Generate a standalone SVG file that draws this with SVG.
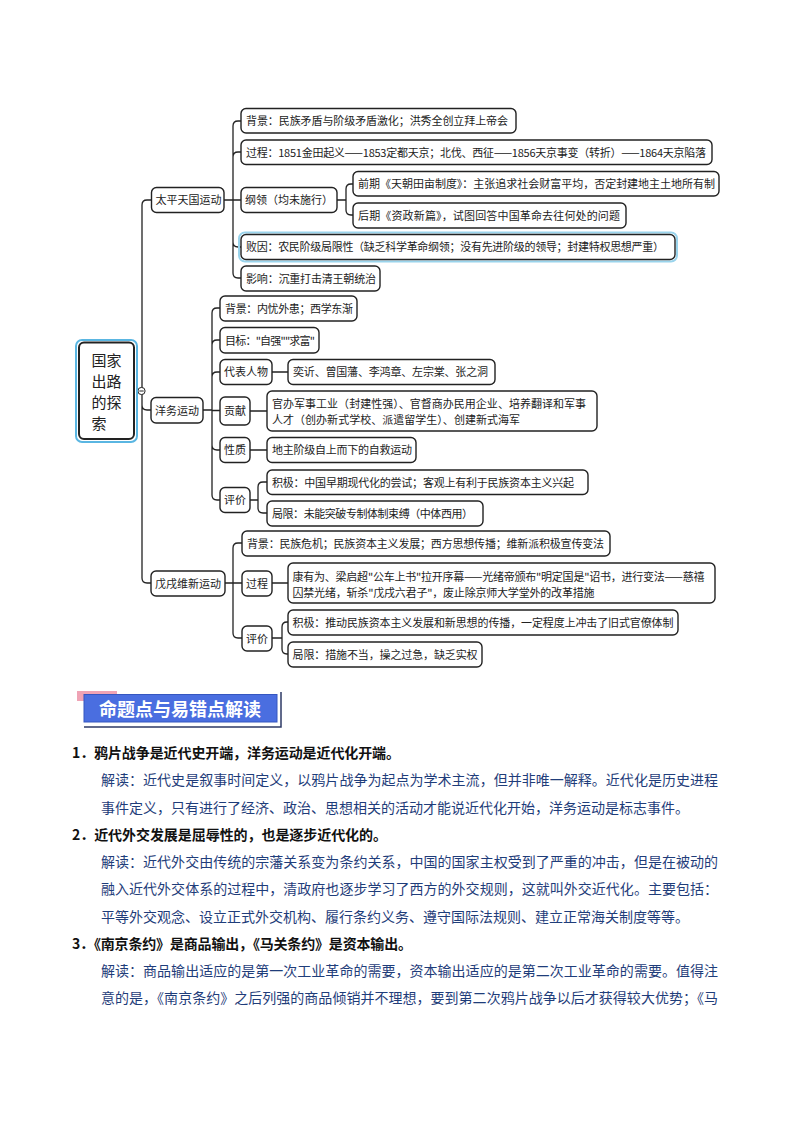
<svg xmlns="http://www.w3.org/2000/svg" width="794" height="1123" viewBox="0 0 794 1123">
<style>
.b{fill:#fff;stroke:#222;stroke-width:1.4}
.t{font-family:"Noto Sans CJK SC","Noto Sans",sans-serif;font-size:11px;fill:#222}
.c{fill:none;stroke:#222;stroke-width:1.3}
.h{font-family:"Noto Sans CJK SC","Noto Sans",sans-serif;font-size:14px;fill:#111;font-weight:bold}
.p{font-family:"Noto Sans CJK SC","Noto Sans",sans-serif;font-size:14px;fill:#1F3D7A}
</style>
<rect width="794" height="1123" fill="#fff"/>
<g id="connectors">
<path class="c" d="M137,391 L141,391"/>
<path class="c" d="M142,205 Q142,200 147,200 L151.5,200 M142,205 L142,578 Q142,583 147,583 L151,583 M142,405 Q142,410 147,410 L151,410"/>
<path class="c" d="M224,200 L233,200 M233,126 L233,273 M233,126 Q233,121 238,121 L241,121 M233,157 Q233,152 238,152 L241,152 M233,200 L241,200 M233,242 Q233,247 238,247 L241,247 M233,273 Q233,278 238,278 L241,278"/>
<path class="c" d="M337,200 L346,200 M346,189 L346,210 M346,189 Q346,184 351,184 L353,184 M346,210 Q346,215 351,215 L353,215"/>
<path class="c" d="M203,410 L212,410 M212,313 L212,495 M212,313 Q212,308 217,308 L220,308 M212,345 Q212,340 217,340 L220,340 M212,377 Q212,372 217,372 L220,372 M212,410.5 L220,410.5 M212,445 Q212,450 217,450 L220,450 M212,495 Q212,500 217,500 L220,500"/>
<path class="c" d="M272,372 L288,372 M250,411 L267,411 M250,450 L267,450"/>
<path class="c" d="M250,500 L258,500 M258,487 L258,508 M258,487 Q258,482 263,482 L267,482 M258,508 Q258,513 263,513 L267,513"/>
<path class="c" d="M225,583 L233,583 M233,548 L233,633 M233,548 Q233,543 238,543 L242,543 M233,583 L242,583 M233,633 Q233,638 238,638 L242,638"/>
<path class="c" d="M272,583 L288,583 M272,638 L282,638 M282,627 L282,649 M282,627 Q282,622 287,622 L288,622 M282,649 Q282,654 287,654 L288,654"/>
<circle cx="141.5" cy="391" r="3.6" fill="#fff" stroke="#222" stroke-width="1"/>
<path d="M139.3,391 L143.7,391" stroke="#222" stroke-width="1"/>
</g>
<g id="root">
<rect x="76" y="340" width="61" height="102" rx="6" fill="none" stroke="#5AB6E2" stroke-width="2"/>
<rect x="79" y="342.5" width="55" height="96.5" rx="5" fill="#fff" stroke="#222" stroke-width="2"/>
<text x="91.5" y="365.5" style="font-family:'Noto Sans CJK SC',sans-serif;font-size:15px;fill:#222">国家</text>
<text x="91.5" y="386.8" style="font-family:'Noto Sans CJK SC',sans-serif;font-size:15px;fill:#222">出路</text>
<text x="91.5" y="408.1" style="font-family:'Noto Sans CJK SC',sans-serif;font-size:15px;fill:#222">的探</text>
<text x="91.5" y="429.4" style="font-family:'Noto Sans CJK SC',sans-serif;font-size:15px;fill:#222">索</text>
</g>
<g id="taiping">
<rect class="b" x="151.5" y="187.5" width="72.5" height="25" rx="5"/>
<text class="t" x="155.5" y="204">太平天国运动</text>
</g>
<g id="tp-bg">
<rect class="b" x="241" y="108.5" width="275" height="24.5" rx="5"/>
<text class="t" x="246" y="125" textLength="262">背景：民族矛盾与阶级矛盾激化；洪秀全创立拜上帝会</text>
</g>
<g id="tp-gc">
<rect class="b" x="241" y="140" width="471" height="24.5" rx="5"/>
<text class="t" x="246" y="156.5" textLength="460">过程：1851金田起义——1853定都天京；北伐、西征——1856天京事变（转折）——1864天京陷落</text>
</g>
<g id="tp-gl">
<rect class="b" x="241" y="187.5" width="96" height="25" rx="5"/>
<text class="t" x="245" y="204" textLength="88">纲领（均未施行）</text>
</g>
<g id="tp-gl1">
<rect class="b" x="353" y="171.5" width="366" height="24.5" rx="5"/>
<text class="t" x="358" y="188" textLength="357">前期《天朝田亩制度》：主张追求社会财富平均，否定封建地主土地所有制</text>
</g>
<g id="tp-gl2">
<rect class="b" x="353" y="203" width="273" height="25" rx="5"/>
<text class="t" x="358" y="219.5" textLength="262">后期《资政新篇》，试图回答中国革命去往何处的问题</text>
</g>
<g id="tp-by">
<rect x="239" y="232.5" width="438" height="29" rx="6" fill="none" stroke="#9AD4EC" stroke-width="2"/>
<rect class="b" x="241" y="234.5" width="434" height="25" rx="5"/>
<text class="t" x="246" y="251" textLength="418">败因：农民阶级局限性（缺乏科学革命纲领；没有先进阶级的领导；封建特权思想严重）</text>
</g>
<g id="tp-yx">
<rect class="b" x="241" y="266" width="139" height="25" rx="5"/>
<text class="t" x="246" y="282.5" textLength="130">影响：沉重打击清王朝统治</text>
</g>
<g id="yangwu">
<rect class="b" x="151" y="397.5" width="52" height="25.5" rx="5"/>
<text class="t" x="155" y="414.5">洋务运动</text>
</g>
<g id="yw-bg">
<rect class="b" x="220" y="296" width="137" height="25" rx="5"/>
<text class="t" x="225" y="312.5" textLength="128">背景：内忧外患；西学东渐</text>
</g>
<g id="yw-mb">
<rect class="b" x="220" y="327.5" width="99" height="25.5" rx="5"/>
<text class="t" x="225" y="344.5" textLength="90">目标："自强""求富"</text>
</g>
<g id="yw-db">
<rect class="b" x="220" y="359.5" width="52" height="25" rx="5"/>
<text class="t" x="224" y="376">代表人物</text>
</g>
<g id="yw-db1">
<rect class="b" x="288" y="359.5" width="207" height="25" rx="5"/>
<text class="t" x="293" y="376" textLength="195">奕䜣、曾国藩、李鸿章、左宗棠、张之洞</text>
</g>
<g id="yw-gx">
<rect class="b" x="220" y="397" width="30" height="28" rx="5"/>
<text class="t" x="224" y="415">贡献</text>
</g>
<g id="yw-gx1">
<rect class="b" x="267" y="391" width="330" height="40" rx="5"/>
<text class="t" x="272" y="407.5" textLength="314">官办军事工业（封建性强）、官督商办民用企业、培养翻译和军事</text>
<text class="t" x="272" y="423.5" textLength="248">人才（创办新式学校、派遣留学生）、创建新式海军</text>
</g>
<g id="yw-xz">
<rect class="b" x="220" y="437.5" width="30" height="25" rx="5"/>
<text class="t" x="224" y="454">性质</text>
</g>
<g id="yw-xz1">
<rect class="b" x="267" y="437.5" width="149" height="25" rx="5"/>
<text class="t" x="272" y="454" textLength="140">地主阶级自上而下的自救运动</text>
</g>
<g id="yw-pj">
<rect class="b" x="220" y="487.5" width="30" height="25" rx="5"/>
<text class="t" x="224" y="504">评价</text>
</g>
<g id="yw-pj1">
<rect class="b" x="267" y="470" width="321" height="24.5" rx="5"/>
<text class="t" x="272" y="486.5" textLength="302">积极：中国早期现代化的尝试；客观上有利于民族资本主义兴起</text>
</g>
<g id="yw-pj2">
<rect class="b" x="267" y="501" width="216" height="25" rx="5"/>
<text class="t" x="272" y="517.5" textLength="201">局限：未能突破专制体制束缚（中体西用）</text>
</g>
<g id="wuxu">
<rect class="b" x="151" y="571" width="74" height="25" rx="5"/>
<text class="t" x="155" y="587.5">戊戌维新运动</text>
</g>
<g id="wx-bg">
<rect class="b" x="242" y="531" width="368" height="25" rx="5"/>
<text class="t" x="247" y="547.5" textLength="357">背景：民族危机；民族资本主义发展；西方思想传播；维新派积极宣传变法</text>
</g>
<g id="wx-gc">
<rect class="b" x="242" y="571" width="30" height="25" rx="5"/>
<text class="t" x="246" y="587.5">过程</text>
</g>
<g id="wx-gc1">
<rect class="b" x="288" y="563" width="427" height="40" rx="5"/>
<text class="t" x="292.5" y="580.5" textLength="412">康有为、梁启超"公车上书"拉开序幕——光绪帝颁布"明定国是"诏书，进行变法——慈禧</text>
<text class="t" x="292.5" y="596.5" textLength="302">囚禁光绪，斩杀"戊戌六君子"，废止除京师大学堂外的改革措施</text>
</g>
<g id="wx-pj">
<rect class="b" x="242" y="626" width="30" height="25" rx="5"/>
<text class="t" x="246" y="642.5">评价</text>
</g>
<g id="wx-pj1">
<rect class="b" x="288" y="610" width="390" height="25" rx="5"/>
<text class="t" x="292.5" y="626.5" textLength="381">积极：推动民族资本主义发展和新思想的传播，一定程度上冲击了旧式官僚体制</text>
</g>
<g id="wx-pj2">
<rect class="b" x="288" y="642" width="194" height="25" rx="5"/>
<text class="t" x="292.5" y="658.5" textLength="185">局限：措施不当，操之过急，缺乏实权</text>
</g>
<g id="header">
<rect x="77" y="691" width="40" height="10" fill="#EFA3B5"/>
<path d="M84,727 L281,727 L281,692" fill="none" stroke="#2E3A66" stroke-width="1.5"/>
<rect x="84" y="694.5" width="193" height="27.5" fill="#4A6EE0" stroke="#3556C0" stroke-width="1"/>
<text x="99" y="715.5" textLength="162" style="font-family:'Noto Sans CJK SC',sans-serif;font-size:18px;font-weight:bold;fill:#fff">命题点与易错点解读</text>
</g>
<g id="body">
<text class="h" x="72" y="758" textLength="328">1．鸦片战争是近代史开端，洋务运动是近代化开端。</text>
<text class="p" x="101" y="785.3" textLength="617">解读：近代史是叙事时间定义，以鸦片战争为起点为学术主流，但并非唯一解释。近代化是历史进程</text>
<text class="p" x="101" y="812.6">事件定义，只有进行了经济、政治、思想相关的活动才能说近代化开始，洋务运动是标志事件。</text>
<text class="h" x="72" y="839.8" textLength="315">2．近代外交发展是屈辱性的，也是逐步近代化的。</text>
<text class="p" x="101" y="867" textLength="617">解读：近代外交由传统的宗藩关系变为条约关系，中国的国家主权受到了严重的冲击，但是在被动的</text>
<text class="p" x="101" y="894.3" textLength="617">融入近代外交体系的过程中，清政府也逐步学习了西方的外交规则，这就叫外交近代化。主要包括：</text>
<text class="p" x="101" y="921.5">平等外交观念、设立正式外交机构、履行条约义务、遵守国际法规则、建立正常海关制度等等。</text>
<text class="h" x="72" y="948.7" textLength="340">3．《南京条约》是商品输出，《马关条约》是资本输出。</text>
<text class="p" x="101" y="976" textLength="617">解读：商品输出适应的是第一次工业革命的需要，资本输出适应的是第二次工业革命的需要。值得注</text>
<text class="p" x="101" y="1003.2" textLength="617">意的是，《南京条约》之后列强的商品倾销并不理想，要到第二次鸦片战争以后才获得较大优势；《马</text>
</g>
</svg>
